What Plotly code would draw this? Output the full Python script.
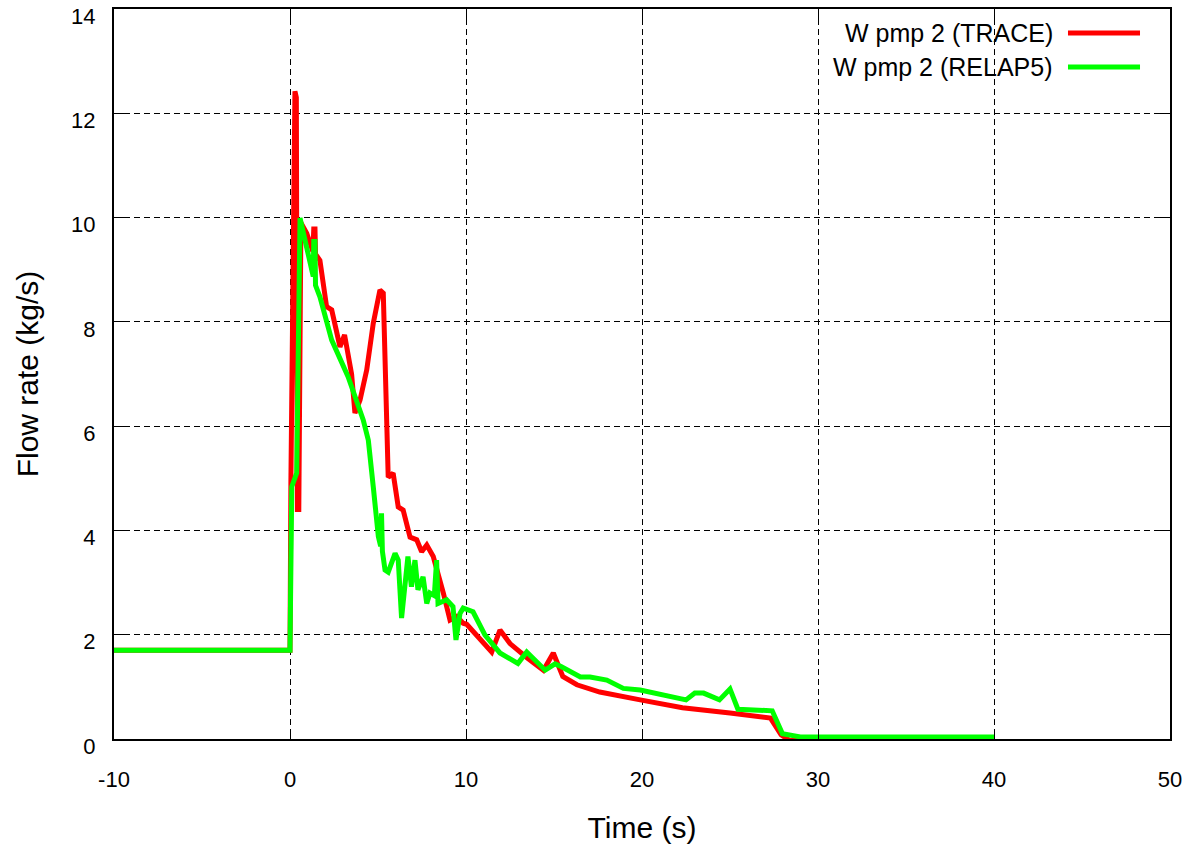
import plotly.graph_objects as go

# TRACE series
trace_t = [-10, 0, 0.05, 0.22, 0.28, 0.36, 0.42, 0.5, 0.62, 0.95, 1.3, 1.35, 1.42, 1.45, 1.7,
           2.08, 2.37, 2.84, 3.1, 3.5, 3.69, 3.98, 4.36, 4.73, 5.11, 5.3, 5.58, 5.86,
           6.15, 6.43, 6.82, 7.2, 7.48, 7.77, 8.14, 8.71, 9.09, 9.47, 9.84, 10.04, 10.7,
           11.46, 11.93, 12.5, 13.5, 14.4, 14.96, 15.5, 16.3, 17.6, 19.9, 22.3, 25.0,
           27.3, 27.9, 28.4, 40]
trace_w = [1.7, 1.7, 4.9, 12.3, 12.42, 12.3, 4.4, 4.4, 9.9, 9.7, 9.35, 9.78, 9.78, 9.3, 9.18,
           8.29, 8.23, 7.52, 7.75, 7.0, 6.25, 6.5, 7.08, 7.97, 8.61, 8.55, 5.02, 5.1,
           4.45, 4.39, 3.87, 3.82, 3.59, 3.72, 3.5, 2.8, 2.28, 2.35, 2.22, 2.2, 1.95,
           1.67, 2.09, 1.83, 1.55, 1.32, 1.65, 1.2, 1.04, 0.9, 0.75, 0.6, 0.5,
           0.4, 0.08, -0.03, -0.03]

# RELAP5 series
relap_t = [-10, 0, 0.1, 0.18, 0.38, 0.57, 1.32, 1.35, 1.42, 1.45, 1.7, 2.37, 3.3, 4.16,
           4.45, 4.73, 5.02, 5.15, 5.2, 5.25, 5.4, 5.58, 5.97, 6.15, 6.34, 6.7, 6.9,
           7.1, 7.27, 7.56, 7.77, 7.95, 8.2, 8.33, 8.41, 8.9, 9.26, 9.43, 9.66, 9.84,
           10.4, 11.08, 11.93, 12.95, 13.45, 14.5, 15.06, 15.4, 16.5, 17.05, 18.0,
           18.94, 19.9, 22.5, 23.0, 23.5, 24.4, 25.0, 25.45, 27.4, 27.98, 29.0, 40]
relap_w = [1.7, 1.7, 4.84, 4.9, 5.1, 9.99, 8.87, 9.54, 9.54, 8.7, 8.48, 7.65, 6.95, 6.12,
           5.73, 4.84, 3.88, 3.7, 4.33, 3.6, 3.24, 3.2, 3.56, 3.43, 2.32, 3.5, 2.92,
           3.43, 2.86, 3.11, 2.6, 2.8, 2.75, 3.43, 2.6, 2.67, 2.54, 1.9, 2.41, 2.51,
           2.44, 1.99, 1.65, 1.45, 1.67, 1.32, 1.44, 1.39, 1.19, 1.19, 1.13,
           0.97, 0.94, 0.75, 0.88, 0.88, 0.75, 0.96, 0.57, 0.54, 0.1, 0.04, 0.04]

names = ["W pmp 2 (TRACE)", "W pmp 2 (RELAP5)"]
colors = ["#ff0000", "#00ff00"]

x_ticks = [-10, 0, 10, 20, 30, 40, 50]
x_tick_labels = ["-10", "0", "10", "20", "30", "40", "50"]
y_ticks = [0, 2, 4, 6, 8, 10, 12, 14]
y_tick_labels = ["0", "2", "4", "6", "8", "10", "12", "14"]

fig = go.Figure()
fig.add_trace(go.Scatter(x=trace_t, y=trace_w, mode="lines", name=names[0],
                         line=dict(color=colors[0], width=5)))
fig.add_trace(go.Scatter(x=relap_t, y=relap_w, mode="lines", name=names[1],
                         line=dict(color=colors[1], width=5)))

font_family = "Liberation Sans, Arial, sans-serif"

axis_common = dict(
    showline=True, linecolor="black", linewidth=2, mirror="allticks",
    ticks="inside", ticklen=10, tickcolor="black", tickwidth=1,
    showgrid=True, gridcolor="black", gridwidth=1, griddash="6px,4px",
    zeroline=False, tickfont=dict(family=font_family, size=22, color="black"),
    ticklabeloverflow="allow", automargin=False,
)

fig.update_xaxes(range=[-10.0001, 50.0001], tickvals=x_ticks, ticktext=x_tick_labels,
                 ticklabelstandoff=20,
                 title=dict(text="Time (s)", font=dict(family=font_family, size=30, color="black"),
                            standoff=26),
                 **axis_common)
fig.update_yaxes(range=[-0.0001, 14.0001], tickvals=y_ticks, ticktext=y_tick_labels,
                 ticklabelstandoff=12, ticklabelshift=7,
                 title=dict(text="Flow rate (kg/s)", font=dict(family=font_family, size=30, color="black"),
                            standoff=24),
                 **axis_common)

# Legend (text left of sample line, as in the reference)
leg_y = [0.967, 0.9205]
for i in range(2):
    fig.add_annotation(xref="paper", yref="paper", x=0.891, y=leg_y[i], text=names[i],
                       showarrow=False, xanchor="right", yanchor="middle",
                       font=dict(family=font_family, size=25, color="black"))
    fig.add_shape(type="line", xref="paper", yref="paper", x0=0.9034, x1=0.9716,
                  y0=leg_y[i], y1=leg_y[i], line=dict(color=colors[i], width=5))

fig.update_layout(
    width=1199, height=846,
    margin=dict(l=114, r=29, t=9, b=107, autoexpand=False),
    plot_bgcolor="white", paper_bgcolor="white",
    showlegend=False,
)

fig.write_html("out.html")
